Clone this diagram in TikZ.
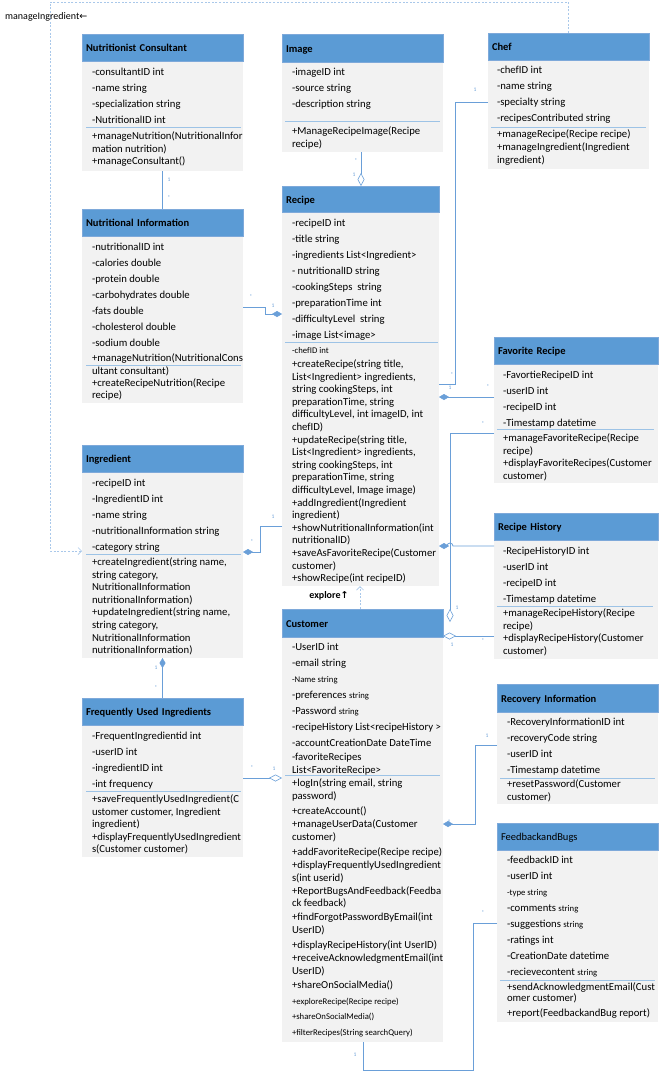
\documentclass[tikz,border=0pt]{standalone}
\usepackage{fontspec}
\setmainfont{Carlito}
\newfontfamily\arrowfont{DejaVu Sans}
\usetikzlibrary{arrows.meta,calc}

\definecolor{headblue}{HTML}{5B9BD5}
\definecolor{headedge}{HTML}{7EA9DA}
\definecolor{bodygray}{HTML}{F2F2F2}
\definecolor{linkblue}{HTML}{6A9FD8}
\definecolor{ruleblue}{HTML}{9DC3E6}
\definecolor{dashblue}{HTML}{A9C8EA}

% text sizes
\newcommand\memfont{\fontsize{10.7}{12.6}\selectfont}
\newcommand\minifont{\fontsize{8.7}{10}\selectfont}
\newcommand\headfont{\bfseries\fontsize{10.5}{12}\selectfont}
\newcommand\multfont{\fontsize{5.5}{6}\selectfont}
\newcommand\smtxt[1]{{\minifont #1}}
% attribute rows are set wider apart than operation rows
\newcommand\attrlist[1]{{\def\arraystretch{1.27}\begin{tabular}[t]{@{}l@{}}#1\end{tabular}}}
\newcommand\oplist[1]{\begin{tabular}[t]{@{}l@{}}#1\end{tabular}}

\tikzset{
  classbody/.style={fill=bodygray, anchor=north west, inner sep=0, outer sep=0},
  classhead/.style={fill=headblue, draw=headedge, line width=0.6pt, anchor=north west,
    inner xsep=4pt, inner ysep=0, outer sep=0, text height=9.5pt, text depth=1pt,
    align=left, font=\headfont},
  members/.style={anchor=base west, inner sep=0, outer sep=0, font=\memfont},
  divider/.style={draw=ruleblue, line width=0.9pt},
  link/.style={draw=linkblue, line width=0.75pt},
  uses/.style={draw=dashblue, line width=0.75pt, dash pattern=on 2pt off 1.6pt},
  mult/.style={font=\multfont, text=linkblue, inner sep=0},
  comp/.style={-{Diamond[length=10pt,width=6pt,fill=linkblue,line width=0.5pt]}},
  agg/.style={-{Diamond[length=13pt,width=7pt,fill=white,line width=0.6pt]}},
  opento/.style={-{Straight Barb[length=3.5pt,width=7pt,line width=0.7pt]}},
}

\begin{document}
\begin{tikzpicture}[x=1pt,y=-1pt]
\useasboundingbox (0,0) rectangle (660,1072);
\fill[white] (0,0) rectangle (660,1072);

% ---------- Nutritionist Consultant ----------
\node[classbody, minimum width=161pt, minimum height=137pt] (nc) at (82,34) {};
\node[classhead, text width=153pt, minimum height=27pt] (nch) at (82,34) {Nutritionist Consultant};
\node[members] (nca) at (92,75.5) {\attrlist{-consultantID int\\ -name string\\ -specialization string\\ -NutritionalID int}};
\draw[divider] (86,127) -- (241,127);
\node[members] (ncm) at (92,139.5) {\oplist{+manageNutrition(NutritionalInfor\\ mation nutrition)\\ +manageConsultant()}};

% ---------- Image ----------
\node[classbody, minimum width=161pt, minimum height=118pt] (img) at (282,34) {};
\node[classhead, text width=153pt, minimum height=28pt] (imgh) at (282,34) {Image};
\node[members] (imga) at (292,75.5) {\attrlist{-imageID int\\ -source string\\ -description string}};
\draw[divider] (285,121) -- (440,121);
\node[members] (imgm) at (292,134.5) {\oplist{+ManageRecipeImage(Recipe\\ recipe)}};

% ---------- Chef ----------
\node[classbody, minimum width=161pt, minimum height=136pt] (chef) at (488,33) {};
\node[classhead, text width=153pt, minimum height=27pt] (chefh) at (488,33) {Chef};
\node[members] (chefa) at (497,73.5) {\attrlist{-chefID int\\ -name string\\ -specialty string\\ -recipesContributed string}};
\draw[divider] (491,127) -- (646,127);
\node[members] (chefm) at (497,137.5) {\oplist{+manageRecipe(Recipe recipe)\\[0.5pt] +manageIngredient(Ingredient\\[0.5pt] ingredient)}};

% ---------- Recipe ----------
\node[classbody, minimum width=157pt, minimum height=400pt] (recipe) at (282,186) {};
\node[classhead, text width=149pt, minimum height=26pt] (reciph) at (282,186) {Recipe};
\node[members] (recipa) at (292,226.5) {\attrlist{-recipeID int\\ -title string\\ -ingredients List<Ingredient>\\ - nutritionalID string\\ -cookingSteps\ \ string\\ -preparationTime int\\ -difficultyLevel\ \ string\\ -image List<image>}};
\draw[divider] (285,342) -- (438,342);
\node[members] (recipm) at (292,353) {\oplist{\smtxt{-chefID int}\\[1.9pt]
+createRecipe(string title,\\ List<Ingredient> ingredients,\\ string cookingSteps, int\\ preparationTime, string\\ difficultyLevel, int imageID, int\\ chefID)\\
+updateRecipe(string title,\\ List<Ingredient> ingredients,\\ string cookingSteps, int\\ preparationTime, string\\ difficultyLevel, Image image)\\
+addIngredient(Ingredient\\ ingredient)\\ +showNutritionalInformation(int\\ nutritionalID)\\ +saveAsFavoriteRecipe(Customer\\ customer)\\ +showRecipe(int recipeID)}};

% ---------- Nutritional Information ----------
\node[classbody, minimum width=161pt, minimum height=194pt] (ni) at (82,209) {};
\node[classhead, text width=153pt, minimum height=27pt] (nih) at (82,209) {Nutritional Information};
\node[members] (nia) at (92,250.5) {\attrlist{-nutritionalID int\\ -calories double\\ -protein double\\ -carbohydrates double\\ -fats double\\ -cholesterol double\\ -sodium double}};
\node[members] (nim) at (92,361.5) {\oplist{+manageNutrition(NutritionalCons\\ ultant consultant)\\[-0.3pt] +createRecipeNutrition(Recipe\\[-0.3pt] recipe)}};
\draw[divider] (86,365) -- (241,365);

% ---------- Ingredient ----------
\node[classbody, minimum width=161pt, minimum height=213pt] (ing) at (82,445) {};
\node[classhead, text width=153pt, minimum height=27pt] (ingh) at (82,445) {Ingredient};
\node[members] (inga) at (92,486.5) {\attrlist{-recipeID int\\ -IngredientID int\\ -name string\\ -nutritionalInformation string\\ -category string}};
\draw[divider] (86,554) -- (241,554);
\node[members] (ingm) at (92,565.5) {\oplist{+createIngredient(string name,\\ string category,\\ NutritionalInformation\\ nutritionalInformation)\\ +updateIngredient(string name,\\ string category,\\ NutritionalInformation\\ nutritionalInformation)}};

% ---------- Frequently Used Ingredients ----------
\node[classbody, minimum width=161pt, minimum height=159pt] (fui) at (82,698) {};
\node[classhead, text width=153pt, minimum height=27pt] (fuih) at (82,698) {Frequently Used Ingredients};
\node[members] (fuia) at (92,739.5) {\attrlist{-FrequentIngredientid int\\ -userID int\\ -ingredientID int\\ -int frequency}};
\draw[divider] (86,791) -- (241,791);
\node[members] (fuim) at (92,802.5) {\oplist{+saveFrequentlyUsedIngredient(C\\ ustomer customer, Ingredient\\ ingredient)\\ +displayFrequentlyUsedIngredient\\ s(Customer customer)}};

% ---------- Customer ----------
\node[classbody, minimum width=161pt, minimum height=433pt] (cust) at (282,609) {};
\node[classhead, text width=153pt, minimum height=28pt] (custh) at (282,609) {Customer};
\node[members] (custa) at (292,650.8) {\attrlist{-UserID int\\ -email string\\ \smtxt{-Name string}\\ -preferences \smtxt{string}\\ -Password \smtxt{string}\\ -recipeHistory List<recipeHistory >\\ -accountCreationDate DateTime\\[-2pt] -favoriteRecipes\\[-3.4pt] List<FavoriteRecipe>}};
\draw[divider] (285,775) -- (440,775);
\node[members] (custm) at (292,786.5) {\oplist{+logIn(string email, string\\
password)\\[2.4pt]
+createAccount()\\[1pt]
+manageUserData(Customer\\
customer)\\[2.4pt]
+addFavoriteRecipe(Recipe recipe)\\[0.4pt]
+displayFrequentlyUsedIngredient\\[0.4pt]
s(int userid)\\[0.4pt]
+ReportBugsAndFeedback(Feedba\\
ck feedback)\\[1pt]
+findForgotPasswordByEmail(int\\
UserID)\\[2.4pt]
+displayRecipeHistory(int UserID)\\[1pt]
+receiveAcknowledgmentEmail(int\\
UserID)\\[2pt]
+shareOnSocialMedia()\\[3pt]
\smtxt{+exploreRecipe(Recipe recipe)}\\[2.4pt]
\smtxt{+shareOnSocialMedia()}\\[3pt]
\smtxt{+filterRecipes(String searchQuery)}}};

% ---------- Favorite Recipe ----------
\node[classbody, minimum width=164pt, minimum height=146pt] (fav) at (494,337) {};
\node[classhead, text width=156pt, minimum height=27pt] (favh) at (494,337) {Favorite Recipe};
\node[members] (fava) at (503,378.5) {\attrlist{-FavortieRecipeID int\\ -userID int\\ -recipeID int\\ -Timestamp datetime}};
\draw[divider] (497,429) -- (654,429);
\node[members] (favm) at (503,441.5) {\oplist{+manageFavoriteRecipe(Recipe\\ recipe)\\ +displayFavoriteRecipes(Customer\\ customer)}};

% ---------- Recipe History ----------
\node[classbody, minimum width=164pt, minimum height=146pt] (hist) at (494,513) {};
\node[classhead, text width=156pt, minimum height=27pt] (histh) at (494,513) {Recipe History};
\node[members] (hista) at (503,554.5) {\attrlist{-RecipeHistoryID int\\ -userID int\\ -recipeID int\\ -Timestamp datetime}};
\draw[divider] (497,606) -- (653,606);
\node[members] (histm) at (503,616.5) {\oplist{+manageRecipeHistory(Recipe\\ recipe)\\ +displayRecipeHistory(Customer\\ customer)}};

% ---------- Recovery Information ----------
\node[classbody, minimum width=161pt, minimum height=120pt] (rec) at (497,684) {};
\node[classhead, text width=153pt, minimum height=28pt] (rech) at (497,684) {Recovery Information};
\node[members] (reca) at (507,725.5) {\attrlist{-RecoveryInformationID int\\ -recoveryCode string\\ -userID int\\ -Timestamp datetime}};
\draw[divider] (500,778) -- (655,778);
\node[members] (recm) at (507,787.5) {\oplist{+resetPassword(Customer\\ customer)}};

% ---------- FeedbackandBugs ----------
\node[classbody, minimum width=161pt, minimum height=199pt] (fb) at (497,823) {};
\node[classhead, text width=153pt, minimum height=27pt, font=\fontsize{10.5}{12}\selectfont] (fbh) at (497,823) {FeedbackandBugs};
\node[members] (fba) at (507,863.5) {\attrlist{-feedbackID int\\ -userID int\\ \smtxt{-type string}\\ -comments \smtxt{string}\\ -suggestions \smtxt{string}\\ -ratings int\\ -CreationDate datetime\\ -recievecontent \smtxt{string}}};
\draw[divider] (500,980) -- (655,980);
\node[members] (fbm) at (507,990.5) {\oplist{+sendAcknowledgmentEmail(Cust\\[-1.2pt] omer customer)\\[2.4pt] +report(FeedbackandBug report)}};

% ---------- associations ----------
\draw[link] (nc.south) -- (ni.north);
\draw[link, agg] (img.south -| 361,0) -- (recipe.north -| 361,0);
\draw[link, comp] (ni.east |- 0,307) -- (265,307) -- (265,314) -- (recipe.west |- 0,314);
\draw[link, comp] (recipe.west |- 0,526) -- (260,526) -- (260,552) -- (ing.east |- 0,552);
\draw[link, comp] (fui.north) -- (ing.south);
\draw[link, agg] (fui.east |- 0,778) -- (cust.west |- 0,778);
\draw[link] (chef.west |- 0,102) -- (455,102) -- (455,384) -- (recipe.east |- 0,384);
\draw[link, comp] (fav.west |- 0,397) -- (recipe.east |- 0,397);
\draw[link, agg] (fav.west |- 0,433) -- (450,433) -- ($(cust.north east)+(7,13)$);
\draw[link, comp] (hist.west |- 0,546) -- (453,546) arc[start angle=0, end angle=-180, radius=3] -- (recipe.east |- 0,546);
\draw[link, agg] (hist.west |- 0,636) -- (cust.east |- 0,636);
\draw[link, comp] (rec.west |- 0,745) -- (475,745) -- (475,824) -- (cust.east |- 0,824);
\draw[link] (fb.west |- 0,923) -- (473,923) -- (473,1070) -- (363,1070) -- (cust.south -| 363,0);

% ---------- dependencies ----------
\draw[uses, opento] (chef.north -| 568,0) -- (568,2) -- (50,2) -- (50,551) -- (ing.west |- 0,551);
\draw[uses, opento] (cust.north -| 360,0) -- (recipe.south -| 360,0);
\node[anchor=west, inner sep=0, font=\fontsize{10}{12}\selectfont] (mglabel) at (5,17) {manageIngredient{\arrowfont\fontsize{9.5}{10}\selectfont ←}};
\node[inner sep=0, font=\bfseries\fontsize{10}{12}\selectfont] (explabel) at (329,596) {explore{\arrowfont\bfseries\fontsize{9.5}{10}\selectfont ↑}};

% ---------- multiplicities ----------
\node[mult] (mu1) at (169,180) {1};
\node[mult] (mu2) at (169,198) {*};
\node[mult] (mu3) at (356,161) {*};
\node[mult] (mu4) at (354,175) {1};
\node[mult] (mu5) at (475,90) {1};
\node[mult] (mu6) at (452,375) {*};
\node[mult] (mu7) at (488,387) {*};
\node[mult] (mu8) at (450,388) {1};
\node[mult] (mu9) at (483,424) {*};
\node[mult] (mu10) at (457,608) {1};
\node[mult] (mu11) at (452,645) {1};
\node[mult] (mu12) at (483,641) {*};
\node[mult] (mu13) at (487,736) {1};
\node[mult] (mu14) at (449,822) {1};
\node[mult] (mu15) at (483,913) {*};
\node[mult] (mu16) at (355,1055) {1};
\node[mult] (mu17) at (251,297) {*};
\node[mult] (mu18) at (273,306) {1};
\node[mult] (mu19) at (273,517) {1};
\node[mult] (mu20) at (252,542) {*};
\node[mult] (mu21) at (156,668) {1};
\node[mult] (mu22) at (156,688) {*};
\node[mult] (mu23) at (252,768) {*};
\node[mult] (mu24) at (274,769) {1};
\end{tikzpicture}
\end{document}
